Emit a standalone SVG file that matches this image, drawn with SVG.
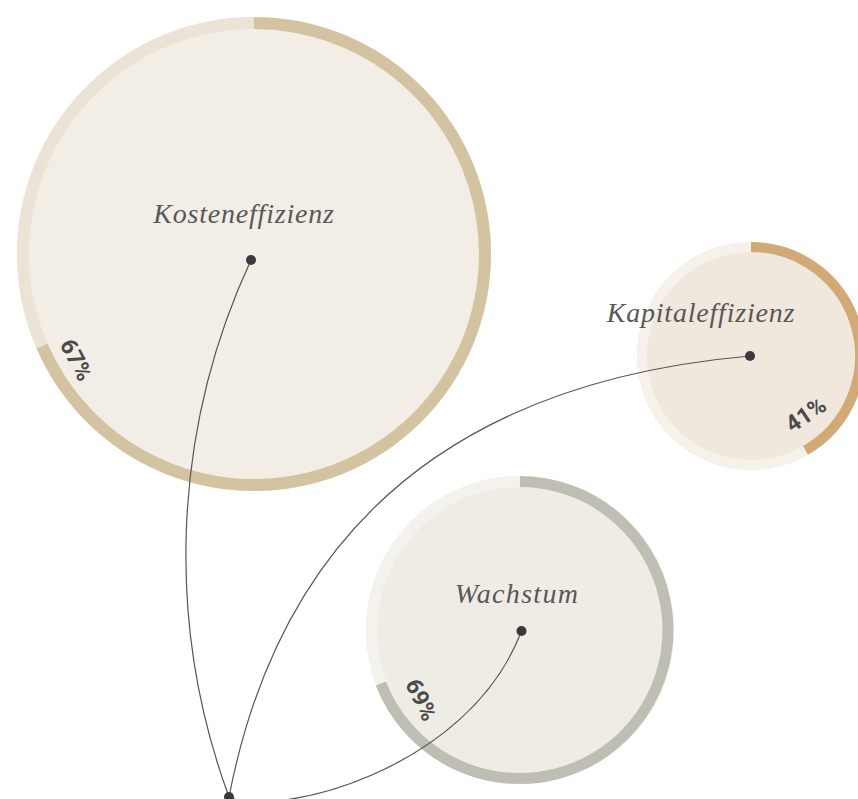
<svg xmlns="http://www.w3.org/2000/svg" width="858" height="799" viewBox="0 0 858 799">
<style>
.lbl{font-family:"Liberation Serif","DejaVu Serif",serif;font-style:italic;font-size:28px;letter-spacing:0.8px;fill:#585858;text-anchor:middle}
.pct{font-family:Roboto,"Liberation Sans",sans-serif;font-weight:700;font-size:23px;fill:#4a4a4a;text-anchor:middle;dominant-baseline:central}
.link{fill:none;stroke:#555;stroke-width:1.2}
.dot{fill:#3a3a3c}
</style>
<rect width="858" height="799" fill="#ffffff"/>
<g id="node-kosteneffizienz">
<circle cx="254" cy="254" r="237" fill="#f2eee6"/>
<circle cx="254" cy="254" r="231" fill="none" stroke="#ebe3d6" stroke-width="12"/>
<path d="M254,23 A231,231 0 1,1 42.1,346.1" fill="none" stroke="#d4c3a0" stroke-width="12"/>
<text class="lbl" x="244" y="223">Kosteneffizienz</text>
<text class="pct" transform="translate(76,360) rotate(62)">67%</text>
</g>
<g id="node-kapitaleffizienz">
<circle cx="751" cy="356" r="114" fill="#f0e8dc"/>
<circle cx="751" cy="356" r="109" fill="none" stroke="#f6f1ea" stroke-width="10"/>
<path d="M751,247 A109,109 0 0,1 805.5,450.4" fill="none" stroke="#d2aa76" stroke-width="10"/>
<text class="lbl" x="701" y="322">Kapitaleffizienz</text>
<text class="pct" transform="translate(806,415) rotate(-34)">41%</text>
</g>
<g id="node-wachstum">
<circle cx="520" cy="630" r="154" fill="#efece5"/>
<circle cx="520" cy="630" r="148.5" fill="none" stroke="#f4f2ed" stroke-width="11"/>
<path d="M520,481.5 A148.5,148.5 0 1,1 380.9,683.4" fill="none" stroke="#bfbeb2" stroke-width="11"/>
<text class="lbl" x="517" y="603" style="letter-spacing:1.3px">Wachstum</text>
<text class="pct" transform="translate(421,700) rotate(64)">69%</text>
</g>
<g id="connectors">
<path class="link" d="M229,797 A701,701 0 0,1 251,260"/>
<path class="link" d="M229,797 Q307,395 750,356"/>
<path class="link" d="M229,797 C275,818 468,772 521.5,631"/>
</g>
<g id="dots">
<circle class="dot" cx="251" cy="260" r="5"/>
<circle class="dot" cx="750" cy="356" r="5"/>
<circle class="dot" cx="521.5" cy="631" r="5"/>
<circle class="dot" cx="229" cy="797" r="5"/>
</g>
</svg>
